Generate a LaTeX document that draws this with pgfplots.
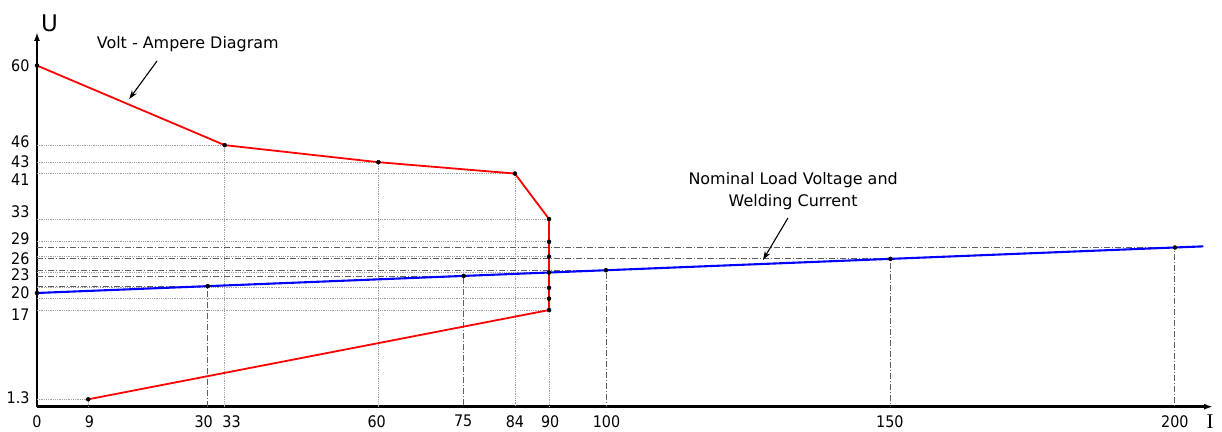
\documentclass[border=0pt]{standalone}
\usepackage{fontspec}
\setmainfont{DejaVu Sans}
\newfontfamily\condfont{DejaVu Sans Condensed}
\newfontfamily\serifI{Liberation Serif}
\usepackage{pgfplots}
\pgfplotsset{compat=1.18}
\usetikzlibrary{arrows.meta}

\definecolor{guide}{RGB}{160,160,160}
\definecolor{guidedark}{RGB}{95,95,95}

\begin{document}
\begin{tikzpicture}
\begin{axis}[
name=ax,
scale only axis,width=1176bp,height=374.7bp,
xmin=0,xmax=206.7,ymin=0,ymax=65.9,
axis lines=left,
axis line style={line width=2.6bp,-{Latex[length=9bp,width=6bp]}},
clip=false,
major tick length=0pt,
xtick={0,9.2,29.3,34.2,59.7,74.9,84,90.2,100.1,149.9,200},
xticklabels={0,9,30,33,60,75,84,90,100,150,200},
ytick={1.6,16.2,20,23.2,26.1,29.6,34.3,40,43.1,46.6,60},
yticklabels={1.3,17,20,23,26,29,33,41,43,46,60},
/pgf/number format/assume math mode=true,
tick label style={font=\condfont\fontsize{16}{18}\selectfont},
yticklabel style={xshift=-4bp},
xticklabel style={yshift=-5bp},
]
% light dotted guides to the red points
\addplot[guide,densely dotted,line width=0.8bp] coordinates {(0,46)(33,46)(33,0)};
\addplot[guide,densely dotted,line width=0.8bp] coordinates {(0,43)(60,43)(60,0)};
\addplot[guide,densely dotted,line width=0.8bp] coordinates {(0,41)(84,41)(84,0)};
\addplot[guide,densely dotted,line width=0.8bp] coordinates {(0,33)(90,33)(90,0)};
\addplot[guide,densely dotted,line width=0.8bp] coordinates {(0,29)(90,29)};
\addplot[guide,densely dotted,line width=0.8bp] coordinates {(0,26.4)(90,26.4)};
\addplot[guide,densely dotted,line width=0.8bp] coordinates {(0,23.6)(90,23.6)};
\addplot[guide,densely dotted,line width=0.8bp] coordinates {(0,20.9)(90,20.9)};
\addplot[guide,densely dotted,line width=0.8bp] coordinates {(0,19)(90,19)};
\addplot[guide,densely dotted,line width=0.8bp] coordinates {(0,17)(90,17)};
\addplot[guide,densely dotted,line width=0.8bp] coordinates {(0,1.3)(9,1.3)(9,0)};
% dash-dot guides to the blue points
\addplot[guidedark,line width=0.8bp,dash pattern=on 6bp off 2bp on 1bp off 2bp] coordinates {(0,21.2)(30,21.2)(30,0)};
\addplot[guidedark,line width=0.8bp,dash pattern=on 6bp off 2bp on 1bp off 2bp] coordinates {(0,23)(75,23)(75,0)};
\addplot[guidedark,line width=0.8bp,dash pattern=on 6bp off 2bp on 1bp off 2bp] coordinates {(0,24)(100,24)(100,0)};
\addplot[guidedark,line width=0.8bp,dash pattern=on 6bp off 2bp on 1bp off 2bp] coordinates {(0,26)(150,26)(150,0)};
\addplot[guidedark,line width=0.8bp,dash pattern=on 6bp off 2bp on 1bp off 2bp] coordinates {(0,28)(200,28)(200,0)};
% volt-ampere diagram
\addplot[red,line width=1.8bp,line join=round] coordinates {(0,60)(33,46)(60,43)(84,41)(90,33)(90,17)(9,1.3)};
% nominal load line
\addplot[blue,line width=2.1bp] coordinates {(0,20)(205,28.2)};
% points
\addplot[only marks,mark=*,mark size=2bp,black] coordinates {
(0,60)(33,46)(60,43)(84,41)(90,33)(90,29)(90,26.4)(90,23.6)(90,20.9)(90,19)(90,17)(9,1.3)
(0,20)(30,21.2)(75,23)(100,24)(150,26)(200,28)};
% annotations
\node[font=\fontsize{16}{19}\selectfont] at (axis cs:26.5,63.8) {Volt - Ampere Diagram};
\draw[line width=1.1bp,-{Stealth[length=9bp,width=6bp]}] (axis cs:21.1,60.8) -- (axis cs:16.2,54.1);
\node[font=\fontsize{16}{22}\selectfont,align=center] at (axis cs:132.9,37.9) {Nominal Load Voltage and\\Welding Current};
\draw[line width=1.1bp,-{Stealth[length=9bp,width=6bp]}] (axis cs:132,33.2) -- (axis cs:127.6,25.8);
\node[font=\fontsize{23}{25}\selectfont] at (axis cs:2.2,67.4) {U};
\node[font=\serifI\fontsize{21}{23}\selectfont,inner sep=0pt] at (axis cs:206.2,-2.6) {I};
\end{axis}
\pgfresetboundingbox
\path[use as bounding box] ([shift={(-37bp,-25.3bp)}]ax.south west) rectangle ([shift={(9bp,32bp)}]ax.north east);
\end{tikzpicture}
\end{document}
